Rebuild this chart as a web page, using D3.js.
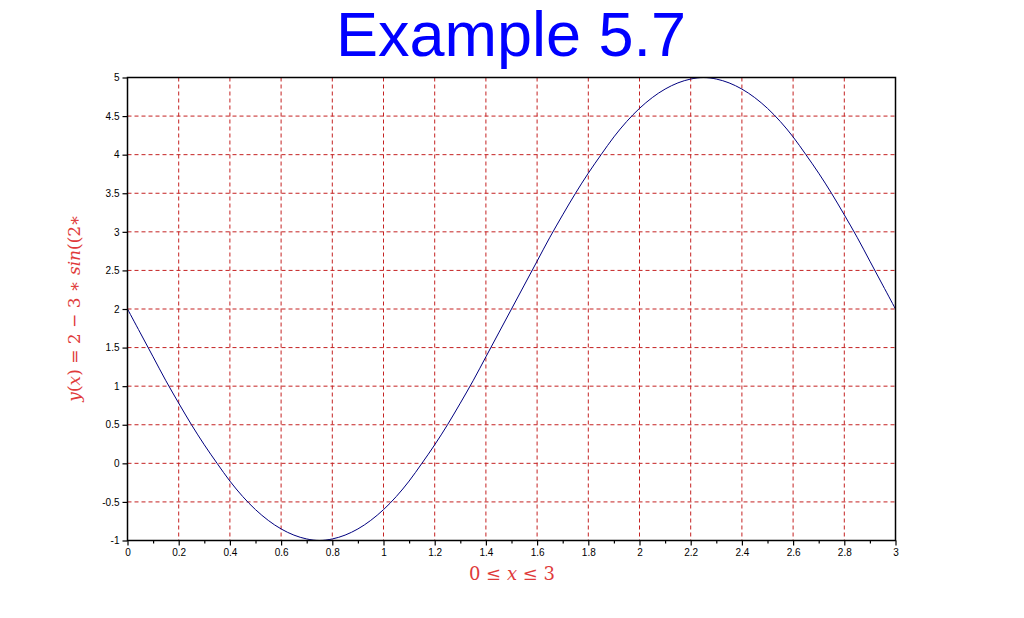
<!DOCTYPE html>
<html><head><meta charset="utf-8">
<script src="https://cdn.jsdelivr.net/npm/d3@7"></script>
<style>body{margin:0;background:#fff}svg{display:block}</style>
</head><body>
<script>
const xValues = [0,0.05,0.1,0.15,0.2,0.25,0.3,0.35,0.4,0.45,0.5,0.55,0.6,0.65,0.7,0.75,0.8,0.85,0.9,0.95,1.0,1.05,1.1,1.15,1.2,1.25,1.3,1.35,1.4,1.45,1.5,1.55,1.6,1.65,1.7,1.75,1.8,1.85,1.9,1.95,2.0,2.05,2.1,2.15,2.2,2.25,2.3,2.35,2.4,2.45,2.5,2.55,2.6,2.65,2.7,2.75,2.8,2.85,2.9,2.95,3.0];
const yValues = [2,1.69,1.38,1.07,0.78,0.5,0.24,0.0,-0.23,-0.43,-0.6,-0.74,-0.85,-0.93,-0.98,-1,-0.98,-0.93,-0.85,-0.74,-0.6,-0.43,-0.23,0.0,0.24,0.5,0.78,1.07,1.38,1.69,2,2.31,2.62,2.93,3.22,3.5,3.76,4.0,4.23,4.43,4.6,4.74,4.85,4.93,4.98,5,4.98,4.93,4.85,4.74,4.6,4.43,4.23,4.0,3.76,3.5,3.22,2.93,2.62,2.31,2];
const xTicks = [0,0.2,0.4,0.6,0.8,1,1.2,1.4,1.6,1.8,2,2.2,2.4,2.6,2.8,3];
const xMinorTicks = [0.1,0.3,0.5,0.7,0.9,1.1,1.3,1.5,1.7,1.9,2.1,2.3,2.5,2.7,2.9];
const yTicks = [-1,-0.5,0,0.5,1,1.5,2,2.5,3,3.5,4,4.5,5];
const titleText = "Example 5.7";

const W = 1024, H = 618;
const L = 127.5, R = 895.5, T = 77.5, B = 540.5;
const svg = d3.select("body").append("svg").attr("width", W).attr("height", H);
const x = d3.scaleLinear().domain([0,3]).range([L,R]);
const y = d3.scaleLinear().domain([-1,5]).range([B,T]);
const grid = "#c42222";
const fmt = d => String(d);

// grid
svg.append("g").selectAll("line").data(xTicks.slice(1,-1)).join("line")
  .attr("x1", d=>x(d)).attr("x2", d=>x(d))
  .attr("y1", T).attr("y2", B)
  .attr("stroke", grid).attr("stroke-width",1).attr("stroke-dasharray","4,3");
svg.append("g").selectAll("line").data(yTicks.slice(1,-1)).join("line")
  .attr("y1", d=>y(d)).attr("y2", d=>y(d))
  .attr("x1", L).attr("x2", R)
  .attr("stroke", grid).attr("stroke-width",1).attr("stroke-dasharray","4,3");

// curve
const pts = xValues.map((v,i)=>[v,yValues[i]]);
svg.append("path").datum(pts)
  .attr("d", d3.line().x(d=>x(d[0])).y(d=>y(d[1])).curve(d3.curveCatmullRom))
  .attr("fill","none").attr("stroke","#00007f").attr("stroke-width",1);

// frame
svg.append("rect").attr("x",L).attr("y",T).attr("width",R-L).attr("height",B-T)
  .attr("fill","none").attr("stroke","#000").attr("stroke-width",1.5);

// axes
const xAxis = svg.append("g").attr("transform",`translate(0,${B})`)
  .call(d3.axisBottom(x).tickValues(xTicks).tickSize(5).tickPadding(3).tickFormat(fmt));
const xMinor = svg.append("g").attr("transform",`translate(0,${B})`)
  .call(d3.axisBottom(x).tickValues(xMinorTicks).tickSize(3).tickFormat(""));
const yAxis = svg.append("g").attr("transform",`translate(${L},0)`)
  .call(d3.axisLeft(y).tickValues(yTicks).tickSize(5).tickPadding(3).tickFormat(fmt));
[xAxis,xMinor,yAxis].forEach(g=>{
  g.select(".domain").remove();
  g.selectAll("line").attr("stroke","#000").attr("stroke-width",1.2);
  g.selectAll("text").attr("font-family","Liberation Sans, Arial, sans-serif").attr("font-size",10).attr("fill","#000");
});

// title
svg.append("text").attr("x",511).attr("y",56).attr("text-anchor","middle")
  .attr("font-family","Liberation Sans, Arial, sans-serif").attr("font-size",63)
  .attr("fill","#0000ff").text(titleText);

// axis labels
const red = "#e03a3a";
const xl = svg.append("text").attr("x",512).attr("y",580).attr("text-anchor","middle")
  .attr("font-family","DejaVu Serif, Liberation Serif, serif").attr("font-size",18).attr("fill",red);
xl.append("tspan").text("0 ≤ ");
xl.append("tspan").attr("font-style","italic").text("x");
xl.append("tspan").text(" ≤ 3");

const yl = svg.append("text").attr("transform",`translate(80,308) rotate(-90)`).attr("text-anchor","middle")
  .attr("font-family","DejaVu Serif, Liberation Serif, serif").attr("font-size",17).attr("fill",red);
yl.append("tspan").attr("font-style","italic").text("y");
yl.append("tspan").text("(");
yl.append("tspan").attr("font-style","italic").text("x");
yl.append("tspan").text(") = 2 − 3 ∗ ");
yl.append("tspan").attr("font-style","italic").text("sin");
yl.append("tspan").text("((2∗");
</script>
</body></html>
